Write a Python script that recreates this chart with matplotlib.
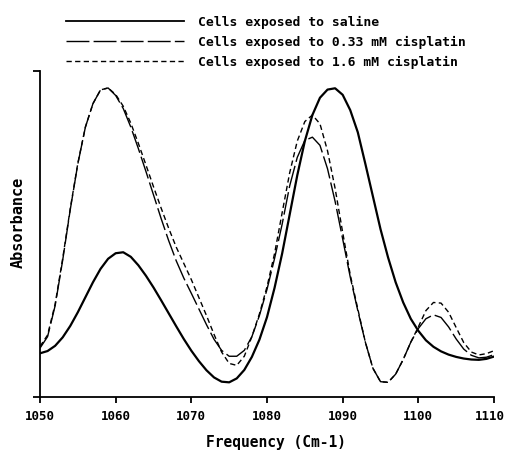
import numpy as np
import matplotlib
matplotlib.use("Agg")
import matplotlib.pyplot as plt
from matplotlib.lines import Line2D
import matplotlib.transforms as mtransforms

plt.rcParams['font.family'] = ['DejaVu Sans Mono']
plt.rcParams['lines.scale_dashes'] = False

# ---- data ----
frequency = list(range(1050, 1111))

saline = [0.134, 0.141, 0.157, 0.183, 0.218, 0.260, 0.306, 0.352, 0.393, 0.424,
          0.441, 0.444, 0.430, 0.404, 0.372, 0.336, 0.297, 0.257, 0.217, 0.178,
          0.142, 0.110, 0.082, 0.060, 0.047, 0.045, 0.057, 0.083, 0.123, 0.176,
          0.245, 0.335, 0.440, 0.560, 0.680, 0.785, 0.865, 0.918, 0.943, 0.947,
          0.927, 0.880, 0.812, 0.715, 0.615, 0.515, 0.428, 0.352, 0.290, 0.240,
          0.203, 0.174, 0.154, 0.140, 0.130, 0.123, 0.118, 0.115, 0.114, 0.117,
          0.124]

cis_033 = [0.150, 0.185, 0.280, 0.420, 0.575, 0.715, 0.828, 0.900, 0.942, 0.948,
           0.925, 0.885, 0.828, 0.762, 0.692, 0.620, 0.548, 0.480, 0.418, 0.365,
           0.318, 0.270, 0.222, 0.177, 0.143, 0.125, 0.125, 0.143, 0.185, 0.250,
           0.330, 0.425, 0.530, 0.648, 0.735, 0.787, 0.797, 0.772, 0.700, 0.600,
           0.485, 0.368, 0.265, 0.168, 0.088, 0.047, 0.045, 0.070, 0.115, 0.168,
           0.210, 0.240, 0.252, 0.244, 0.215, 0.178, 0.147, 0.128, 0.120, 0.122,
           0.130]

cis_16 = [0.155, 0.190, 0.285, 0.425, 0.578, 0.717, 0.828, 0.900, 0.942, 0.948,
          0.928, 0.892, 0.840, 0.778, 0.712, 0.645, 0.580, 0.518, 0.460, 0.410,
          0.360, 0.305, 0.250, 0.192, 0.138, 0.103, 0.097, 0.125, 0.185, 0.255,
          0.338, 0.440, 0.565, 0.688, 0.785, 0.845, 0.865, 0.838, 0.755, 0.640,
          0.505, 0.375, 0.270, 0.168, 0.088, 0.047, 0.045, 0.070, 0.115, 0.168,
          0.215, 0.265, 0.290, 0.288, 0.260, 0.213, 0.167, 0.138, 0.129, 0.133,
          0.142]

labels = ["Cells exposed to saline",
          "Cells exposed to 0.33 mM cisplatin",
          "Cells exposed to 1.6 mM cisplatin"]
xticks = [1050, 1060, 1070, 1080, 1090, 1100, 1110]
xlabel = "Frequency (Cm-1)"
ylabel = "Absorbance"

# ---- styles ----
W, H = 505, 452
fig = plt.figure(figsize=(W / 100, H / 100), dpi=100)
ax = fig.add_axes([40 / W, 1 - 398 / H, 454 / W, 326 / H])

styles = [
    dict(color='black', lw=1.6, linestyle='-'),
    dict(color='black', lw=1.0, linestyle=(0, (16.5, 3.0))),
    dict(color='black', lw=1.0, linestyle=(0, (3.8, 2.4))),
]
series = [saline, cis_033, cis_16]
for ys, st in zip(series, styles):
    ax.plot(frequency, ys, solid_capstyle='round', solid_joinstyle='round',
            dash_capstyle='butt', dash_joinstyle='round', **st)

ax.set_xlim(1050, 1110)
ax.set_ylim(0, 1)
for s in ['top', 'right']:
    ax.spines[s].set_visible(False)
for s in ['left', 'bottom']:
    ax.spines[s].set_linewidth(1.3)
ax.set_xticks(xticks)
ax.set_xticklabels([str(t) for t in xticks], fontsize=9, fontweight='bold')
ax.set_yticks([0, 1])
ax.set_yticklabels([])
ax.tick_params(axis='x', direction='out', length=4, width=1.3, pad=5)
ax.tick_params(axis='y', direction='out', length=5, width=1.3)
# keep last label inside the canvas
lbls = ax.get_xticklabels()
lbls[-1].set_transform(lbls[-1].get_transform() +
                       mtransforms.ScaledTranslation(-4 / 100, 0, fig.dpi_scale_trans))

fig.text(276 / W, 1 - 443 / H, xlabel, ha='center', va='center', fontsize=10.5,
         fontweight='bold')
fig.text(18 / W, 1 - 222 / H, ylabel, ha='center', va='center', rotation=90,
         fontsize=11, fontweight='bold')

# legend (manual)
ys_leg = [22, 42, 62]
for yl, st, lab in zip(ys_leg, styles, labels):
    fig.add_artist(Line2D([66 / W, 184 / W], [1 - yl / H, 1 - yl / H],
                          transform=fig.transFigure, color='black',
                          lw=1.3 if st['linestyle'] == '-' else 1.0,
                          linestyle=st['linestyle']))
    fig.text(198 / W, 1 - yl / H, lab, ha='left', va='center', fontsize=9.4,
             fontweight='bold')

fig.savefig('out.png', dpi=100)
